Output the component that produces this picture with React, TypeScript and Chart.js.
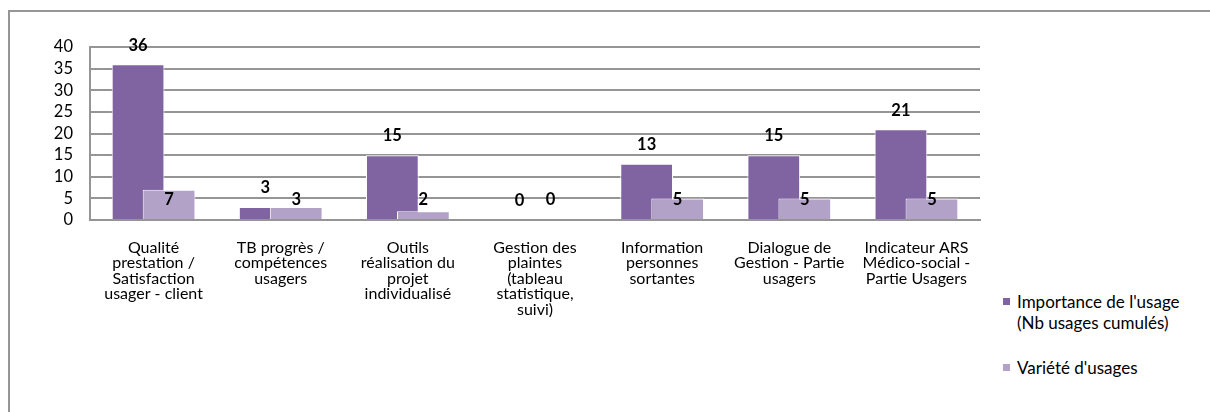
import React, { useEffect, useRef } from "react";
import { Chart, registerables } from "chart.js";

Chart.register(...registerables);

const categories: string[][] = [
  ["Qualité", "prestation /", "Satisfaction", "usager - client"],
  ["TB progrès /", "compétences", "usagers"],
  ["Outils", "réalisation du", "projet", "individualisé"],
  ["Gestion des", "plaintes", "(tableau", "statistique,", "suivi)"],
  ["Information", "personnes", "sortantes"],
  ["Dialogue de", "Gestion - Partie", "usagers"],
  ["Indicateur ARS", "Médico-social -", "Partie Usagers"],
];

const importance: number[] = [36, 3, 15, 0, 13, 15, 21];
const variete: number[] = [7, 3, 2, 0, 5, 5, 5];

const seriesImportanceLines: string[] = ["Importance de l'usage", "(Nb usages cumulés)"];
const seriesVarieteLines: string[] = ["Variété d'usages"];

const yMin = 0;
const yMax = 40;
const yStep = 5;

const PURPLE = "#8064A2";
const LILAC = "#B3A2C7";
const GRID = "#959595";
const FONT = "Lato, 'Open Sans', sans-serif";

// Draw datasets in order 0 then 1 (so the lighter series overlaps the darker one), then the value labels.
const overlapDrawAndLabels = {
  id: "overlapDrawAndLabels",
  beforeDatasetsDraw(chart: any) {
    const n = chart.data.datasets.length;
    for (let i = 0; i < n; i++) {
      const meta = chart.getDatasetMeta(i);
      if (meta.visible !== false) meta.controller.draw();
    }
    const ctx = chart.ctx;
    const yScale = chart.scales.y;
    ctx.save();
    ctx.font = `bold 16.5px ${FONT}`;
    ctx.fillStyle = "#000";
    ctx.textAlign = "center";
    ctx.textBaseline = "middle";
    chart.data.datasets.forEach((ds: any, di: number) => {
      const meta = chart.getDatasetMeta(di);
      meta.data.forEach((el: any, i: number) => {
        const v = ds.data[i];
        const y = di === 0 ? el.y - 19 : yScale.bottom - 20;
        ctx.fillText(String(v), el.x, y);
      });
    });
    ctx.restore();
    return false;
  },
};

export default function App() {
  const canvasRef = useRef<HTMLCanvasElement | null>(null);

  useEffect(() => {
    if (!canvasRef.current) return;
    const chart = new Chart(canvasRef.current, {
      type: "bar",
      data: {
        labels: categories,
        datasets: [
          {
            label: seriesImportanceLines.join(" "),
            data: importance,
            backgroundColor: PURPLE,
            borderColor: "#ffffff",
            borderWidth: 1,
            categoryPercentage: 0.488,
            barPercentage: 1.7,
          },
          {
            label: seriesVarieteLines.join(" "),
            data: variete,
            backgroundColor: LILAC,
            borderColor: "#ffffff",
            borderWidth: 1,
            categoryPercentage: 0.488,
            barPercentage: 1.7,
          },
        ],
      },
      options: {
        responsive: false,
        animation: false,
        layout: { padding: { top: 47, right: 20, left: 0, bottom: 0 } },
        plugins: {
          legend: { display: false },
          tooltip: { enabled: false },
        },
        scales: {
          x: {
            grid: { display: false, drawTicks: false },
            border: { display: true, color: GRID, width: 2 },
            ticks: {
              color: "#000",
              font: { family: FONT, size: 16, lineHeight: 0.97 },
              padding: 20,
              maxRotation: 0,
              autoSkip: false,
            },
            afterFit: (scale: any) => {
              scale.height = 192;
            },
          },
          y: {
            min: yMin,
            max: yMax,
            grid: { color: GRID, lineWidth: 2, drawTicks: false },
            border: { display: true, color: GRID, width: 2 },
            ticks: {
              stepSize: yStep,
              autoSkip: false,
              color: "#000",
              font: { family: FONT, size: 16.5 },
              padding: 17,
            },
            afterFit: (scale: any) => {
              scale.width = 90;
            },
          },
        },
      },
      plugins: [overlapDrawAndLabels],
    });
    return () => chart.destroy();
  }, []);

  const legendText: React.CSSProperties = {
    fontFamily: FONT,
    fontSize: 17,
    lineHeight: "21px",
    color: "#000",
  };

  return (
    <div style={{ position: "fixed", left: 0, top: 0, width: 1210, height: 412, overflow: "hidden", background: "#fff" }}>
      <div
        style={{
          position: "absolute",
          left: 8,
          top: 10,
          width: 1400,
          height: 600,
          borderTop: `2px solid ${GRID}`,
          borderLeft: `2px solid ${GRID}`,
        }}
      />
      <canvas
        ref={canvasRef}
        width={1000}
        height={412}
        style={{ position: "absolute", left: 0, top: 0, width: 1000, height: 412 }}
      />
      <div style={{ position: "absolute", left: 1003, top: 291 }}>
        <div style={{ display: "flex", alignItems: "flex-start" }}>
          <span style={{ width: 7, height: 7, background: PURPLE, marginTop: 7, marginRight: 7, flex: "none" }} />
          <div style={legendText}>
            {seriesImportanceLines.map((t) => (
              <div key={t}>{t}</div>
            ))}
          </div>
        </div>
        <div style={{ display: "flex", alignItems: "flex-start", marginTop: 24 }}>
          <span style={{ width: 7, height: 7, background: LILAC, marginTop: 7, marginRight: 7, flex: "none" }} />
          <div style={legendText}>
            {seriesVarieteLines.map((t) => (
              <div key={t}>{t}</div>
            ))}
          </div>
        </div>
      </div>
    </div>
  );
}
